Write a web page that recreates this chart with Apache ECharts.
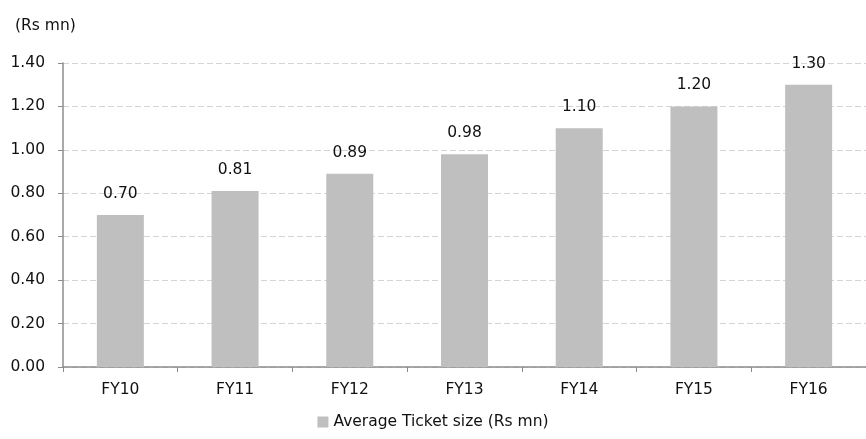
<!DOCTYPE html>
<html>
<head>
<meta charset="utf-8">
<script src="https://cdn.jsdelivr.net/npm/echarts@6/dist/echarts.min.js"></script>
<style>
  html, body { margin: 0; padding: 0; background: #fff; }
  #chart { width: 866px; height: 439px; }
</style>
</head>
<body>
<div id="chart"></div>
<script>
// Average ticket size by fiscal year
const categories = ['FY10', 'FY11', 'FY12', 'FY13', 'FY14', 'FY15', 'FY16'];
const ticketSize = [0.70, 0.81, 0.89, 0.98, 1.10, 1.20, 1.30];
const seriesName = 'Average Ticket size (Rs mn)';
const unitLabel = '(Rs mn)';

const FONT = '"DejaVu Sans", sans-serif';
const INK = '#111111';
const chart = echarts.init(document.getElementById('chart'), null, { renderer: 'canvas' });

chart.setOption({
  animation: false,
  backgroundColor: '#ffffff',
  textStyle: { fontFamily: FONT },
  graphic: [{
    type: 'text',
    left: 15,
    top: 18,
    style: { text: unitLabel, fontSize: 15.5, fontFamily: FONT, fill: INK }
  }],
  grid: { left: 63, right: -11, top: 63, bottom: 72 },
  legend: {
    bottom: 4,
    left: 'center',
    itemWidth: 11,
    itemHeight: 11,
    itemGap: 4,
    icon: 'rect',
    textStyle: { fontSize: 15.5, color: INK, fontFamily: FONT },
    data: [seriesName]
  },
  xAxis: {
    type: 'category',
    data: categories,
    axisLine: { lineStyle: { color: '#8c8c8c', width: 1.5 } },
    axisTick: { show: true, alignWithLabel: false, length: 5, lineStyle: { color: '#8c8c8c' } },
    axisLabel: { fontSize: 15.5, color: INK, margin: 15, fontFamily: FONT }
  },
  yAxis: {
    type: 'value',
    min: 0,
    max: 1.4,
    interval: 0.2,
    axisLine: { show: true, lineStyle: { color: '#8c8c8c', width: 1.5 } },
    axisTick: { show: true, length: 5, lineStyle: { color: '#8c8c8c' } },
    axisLabel: {
      fontSize: 15.5, color: INK, margin: 18, fontFamily: FONT,
      formatter: v => v.toFixed(2)
    },
    splitLine: { show: true, lineStyle: { color: '#d4d4d4', type: [6, 3], width: 1 } }
  },
  series: [{
    name: seriesName,
    type: 'bar',
    data: ticketSize,
    barWidth: 47,
    itemStyle: { color: '#bfbfbf' },
    label: {
      show: true,
      position: 'top',
      distance: 13,
      fontSize: 15.5,
      color: INK,
      fontFamily: FONT,
      formatter: p => p.value.toFixed(2)
    }
  }]
});
</script>
</body>
</html>
